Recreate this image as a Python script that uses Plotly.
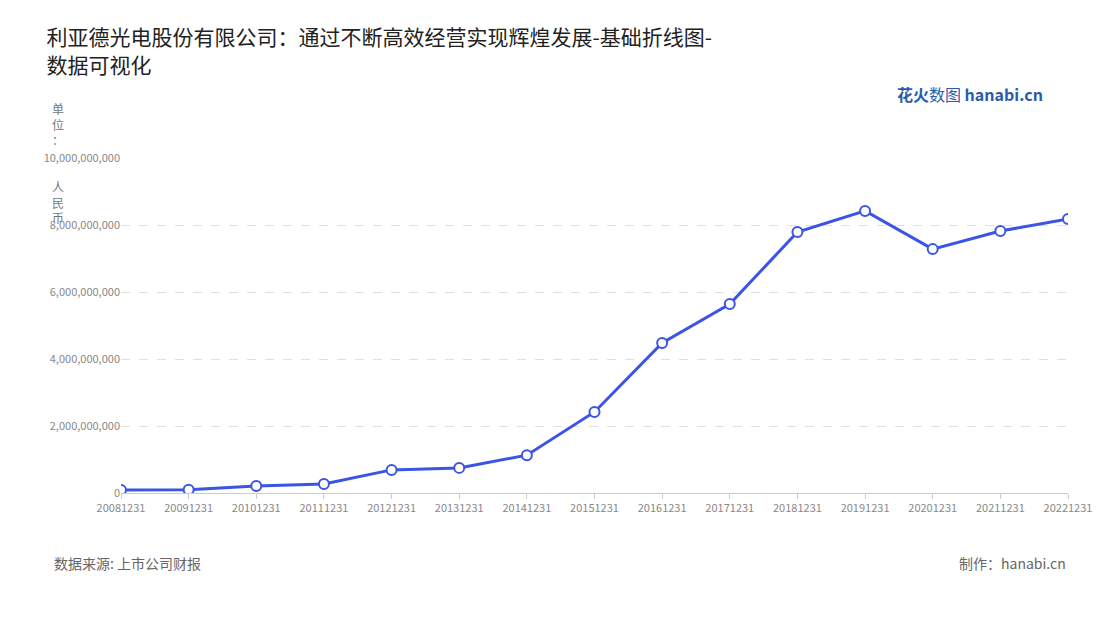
import plotly.graph_objects as go

years = ["20081231", "20091231", "20101231", "20111231", "20121231", "20131231",
         "20141231", "20151231", "20161231", "20171231", "20181231", "20191231",
         "20201231", "20211231", "20221231"]
revenue = [90e6, 100e6, 210e6, 270e6, 690e6, 750e6, 1130e6, 2420e6, 4480e6,
           5640e6, 7790e6, 8420e6, 7280e6, 7820e6, 8180e6]

fig = go.Figure(go.Scatter(
    x=years, y=revenue, mode="lines+markers",
    line=dict(color="#3b54e6", width=3),
    marker=dict(size=10, color="white", line=dict(color="#3b54e6", width=2)),
))

fig.update_layout(
    width=1100, height=620, plot_bgcolor="white", paper_bgcolor="white",
    font=dict(family="Noto Sans CJK SC", color="#888", size=11),
    margin=dict(l=113, r=40, t=150, b=135),
    showlegend=False,
    title=dict(text="利亚德光电股份有限公司：通过不断高效经营实现辉煌发展-基础折线图-<br>数据可视化",
               x=0.035, xanchor="left", y=0.94, yanchor="top",
               font=dict(size=21, color="#222")),
    xaxis=dict(type="category", showgrid=False, showline=True, linecolor="#ccc",
               ticks="outside", tickcolor="#ccc", range=[0, 14],
               tickfont=dict(size=11, color="#888")),
    yaxis=dict(range=[0, 10e9], tickvals=[0, 2e9, 4e9, 6e9, 8e9, 10e9],
               tickformat=",d", gridcolor="#e0e0e0", griddash="dash",
               zeroline=False, tickfont=dict(size=11, color="#888")),
    annotations=[
        dict(text="单<br>位<br>：<br><br><br>人<br>民<br>币", x=-0.066, y=1.18,
             xref="paper", yref="paper", xanchor="center", yanchor="top",
             showarrow=False, font=dict(size=12, color="#777")),
        dict(text="数据来源: 上市公司财报", x=-0.073, y=-0.245, xref="paper", yref="paper",
             xanchor="left", showarrow=False, font=dict(size=14, color="#666")),
        dict(text="制作：hanabi.cn", x=1.0, y=-0.245, xref="paper", yref="paper",
             xanchor="right", showarrow=False, font=dict(size=14, color="#666")),
        dict(text="<b>花火</b>数图 <b>hanabi.cn</b>", x=0.976, y=1.233, xref="paper", yref="paper",
             xanchor="right", showarrow=False, font=dict(size=16, color="#2a5caa")),
    ],
)

fig.write_html("out.html")
